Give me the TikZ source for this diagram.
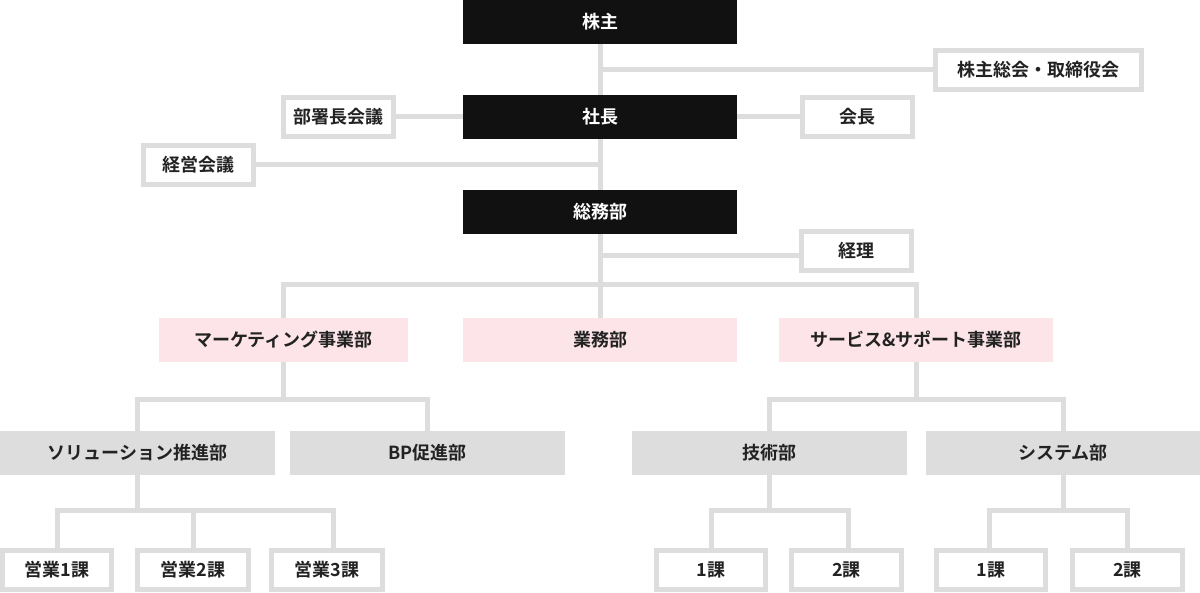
\documentclass[tikz,border=0pt]{standalone}
\usepackage{fontspec}
\setmainfont{Noto Sans CJK JP}[BoldFont={Noto Sans CJK JP Bold}]
\usetikzlibrary{backgrounds}
\definecolor{blk}{HTML}{111111}
\definecolor{lg}{HTML}{DDDDDD}
\definecolor{pk}{HTML}{FCE4E8}
\definecolor{tx}{HTML}{222222}
\begin{document}
\begin{tikzpicture}[x=1pt,y=-1pt,
  every node/.style={font=\fontsize{18}{20}\selectfont\bfseries, inner sep=0pt, outer sep=0pt, anchor=north west},
  darkbox/.style={fill=blk, text=white, minimum width=274pt, minimum height=44pt},
  pinkbox/.style={fill=pk, text=tx, minimum height=44pt},
  graybox/.style={fill=lg, text=tx, minimum width=275pt, minimum height=44pt},
  framebox/.style={draw=lg, line width=5pt, fill=white, text=tx, minimum width=110pt, minimum height=39pt},
  conn/.style={draw=lg, line width=5pt}]
\useasboundingbox (0,0) rectangle (1200,593);
% nodes
\node[darkbox] (kabu) at (463,0) {株主};
\node[framebox, minimum width=206pt] (soukai) at (935.5,50.5) {株主総会・取締役会};
\node[darkbox] (shacho) at (463,95) {社長};
\node[framebox] (bucho) at (283.5,97.5) {部署長会議};
\node[framebox] (kaicho) at (802.5,97.5) {会長};
\node[framebox] (keiei) at (143.5,145.5) {経営会議};
\node[darkbox] (somu) at (463,190) {総務部};
\node[framebox] (keiri) at (801.5,231.5) {経理};
\node[pinkbox, minimum width=249pt] (mkt) at (159,318) {マーケティング事業部};
\node[pinkbox, minimum width=274pt] (gyomu) at (463,318) {業務部};
\node[pinkbox, minimum width=274pt] (svc) at (779,318) {サービス\&サポート事業部};
\node[graybox] (sol) at (0,431) {ソリューション推進部};
\node[graybox] (bp) at (290,431) {BP促進部};
\node[graybox] (gijutsu) at (632,431) {技術部};
\node[graybox, minimum width=274pt] (system) at (926,431) {システム部};
\node[framebox, minimum width=109pt] (e1) at (2.5,550.5) {営業1課};
\node[framebox, minimum width=111pt] (e2) at (137.5,550.5) {営業2課};
\node[framebox, minimum width=111pt] (e3) at (271.5,550.5) {営業3課};
\node[framebox, minimum width=109pt] (g1) at (656.5,550.5) {1課};
\node[framebox, minimum width=110pt] (g2) at (791.5,550.5) {2課};
\node[framebox, minimum width=109pt] (s1) at (936.5,550.5) {1課};
\node[framebox, minimum width=110pt] (s2) at (1072.5,550.5) {2課};
% junction coordinates
\coordinate (j1) at (600,70);
\coordinate (j2) at (600,165);
\coordinate (j3) at (600,256);
\coordinate (j4) at (600,285);
\coordinate (jm) at (283.5,400);
\coordinate (js) at (916,400);
\coordinate (jsol) at (137.5,510);
\coordinate (jg) at (769.5,510);
\coordinate (jsy) at (1063,510);
% connectors
\begin{scope}[on background layer]
\draw[conn] (kabu.south) -- (shacho.north);
\draw[conn] (j1) -- (j1 -| soukai.west);
\draw[conn] (bucho.east) -- (shacho.west);
\draw[conn] (shacho.east) -- (kaicho.west);
\draw[conn] (shacho.south) -- (somu.north);
\draw[conn] (j2) -- (j2 -| keiei.east);
\draw[conn] (somu.south) -- (j4);
\draw[conn] (j3) -- (j3 -| keiri.west);
\draw[conn] (j4) -- (gyomu.north);
\draw[conn] (j4) -| (mkt.north);
\draw[conn] (j4) -| (svc.north);
\draw[conn] (mkt.south) -- (jm);
\draw[conn] (jm) -| (sol.north);
\draw[conn] (jm) -| (bp.north);
\draw[conn] (svc.south) -- (js);
\draw[conn] (js) -| (gijutsu.north);
\draw[conn] (js) -| (system.north);
\draw[conn] (sol.south) -- (jsol);
\draw[conn] (jsol) -| (e1.north);
\draw[conn] (jsol) -| ([xshift=6pt]e3.north);
\draw[conn] (jsol) -| (e2.north);
\draw[conn] (gijutsu.south) -- (jg);
\draw[conn] (jg) -| (g1.north);
\draw[conn] (jg) -| ([xshift=2pt]g2.north);
\draw[conn] (system.south) -- (jsy);
\draw[conn] (jsy) -| ([xshift=-2pt]s1.north);
\draw[conn] (jsy) -| (s2.north);
\end{scope}
\end{tikzpicture}
\end{document}
